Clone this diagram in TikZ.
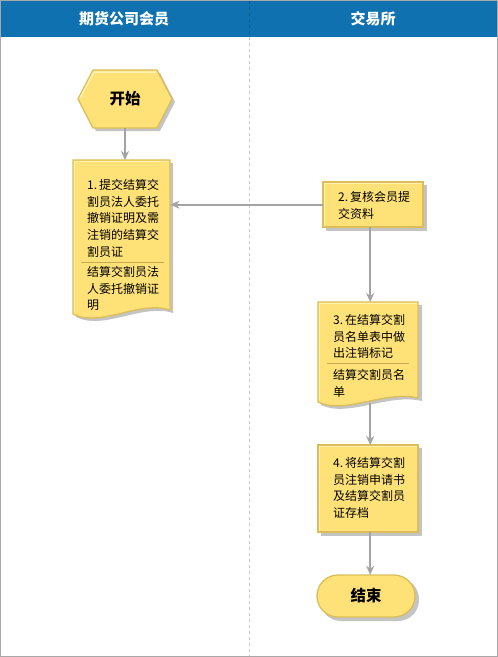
\documentclass[tikz,border=0pt]{standalone}
\usepackage{fontspec}
\newfontfamily\cjk{Noto Sans CJK SC}
\usetikzlibrary{arrows.meta,backgrounds}
\definecolor{hdr}{HTML}{1071B0}
\definecolor{hdrline}{HTML}{0B5A8E}
\definecolor{ylw}{HTML}{FFE277}
\definecolor{ylight}{HTML}{FFF2B0}
\definecolor{yedge}{HTML}{DCBD58}
\definecolor{ydiv}{HTML}{C9A94E}
\definecolor{arr}{HTML}{A3A3A3}
\definecolor{shd}{HTML}{C4C4C4}
\definecolor{frame}{HTML}{A8A8A8}
\definecolor{lane}{HTML}{C8C8C8}
\newcommand{\nsp}{\hspace{2pt}}
\begin{document}
\begin{tikzpicture}[x=1pt,y=-1pt,
  lbl/.style={font=\cjk\fontsize{12}{16.8}\selectfont, align=left, anchor=north west, inner sep=0pt, text=black},
  hdrtext/.style={font=\cjk\bfseries\fontsize{15}{18}\selectfont, text=white, inner sep=0pt},
  termtext/.style={font=\cjk\bfseries\fontsize{15.5}{18}\selectfont, text=black, inner sep=0pt},
  holder/.style={draw=none, fill=none, inner sep=0pt, anchor=north west},
  yfill/.style={fill=ylw, draw=yedge, line width=1.3pt},
  shadow/.style={fill=shd, draw=none},
  conn/.style={draw=arr, line width=2pt, -{Stealth[length=9pt,width=8pt]}},
]
\useasboundingbox (0,0) rectangle (498,657);
% frame and header
\fill[white] (0,0) rectangle (498,657);
\fill[hdr] (1,1) rectangle (497,37);
\draw[hdrline, dashed, line width=0.8pt] (249,1) -- (249,37);
\draw[lane, dashed, line width=0.8pt] (249,37) -- (249,656);
\draw[frame, line width=1.2pt] (0.6,0.6) rectangle (497.4,656.4);
\node[hdrtext] (h1) at (124,19) {期货公司会员};
\node[hdrtext] (h2) at (373,19) {交易所};

% ---------- shapes ----------
% start hexagon
\fill[shadow] (81,102) -- (96,73) -- (160,73) -- (175,102) -- (160,131) -- (96,131) -- cycle;
\draw[yfill] (78,99) -- (93,70) -- (157,70) -- (172,99) -- (157,128) -- (93,128) -- cycle;
\draw[ylight, line width=1.5pt] (80,98) -- (94,72) -- (156,72);
\node[termtext, minimum width=94pt, minimum height=58pt] (start) at (125,99) {开始};

% box 1 (document)
\fill[shadow] (76,163) -- (173,163) -- (173,313) .. controls (143,303) and (103,331) .. (76,317) -- cycle;
\draw[yfill] (73,160) -- (170,160) -- (170,310) .. controls (140,300) and (100,328) .. (73,314) -- cycle;
\draw[ylight, line width=1.5pt] (74.5,312) -- (74.5,161.5) -- (168.5,161.5);
\draw[ydiv, line width=0.9pt] (81,262) -- (164,262);
\node[holder, minimum width=97pt, minimum height=154pt] (b1) at (73,160) {};
\node[lbl] (t1) at (87,179) {1.\nsp 提交结算交\\割员法人委托\\撤销证明及需\\注销的结算交\\割员证};
\node[lbl] (t1b) at (87,266) {结算交割员法\\人委托撤销证\\明};

% box 2
\fill[shadow] (326,185) rectangle (427,231);
\draw[yfill] (323,182) rectangle (423,227);
\draw[ylight, line width=1.5pt] (324.5,225.5) -- (324.5,183.5) -- (421.5,183.5);
\node[holder, minimum width=100pt, minimum height=45pt] (b2) at (323,182) {};
\node[lbl] (t2) at (338,191) {2.\nsp 复核会员提\\交资料};

% box 3 (document)
\fill[shadow] (321,305) -- (422,305) -- (422,401) .. controls (388,393) and (348,418) .. (321,405) -- cycle;
\draw[yfill] (318,302) -- (418,302) -- (418,398) .. controls (385,390) and (345,415) .. (318,402) -- cycle;
\draw[ylight, line width=1.5pt] (319.5,400) -- (319.5,303.5) -- (416.5,303.5);
\draw[ydiv, line width=0.9pt] (327,363) -- (409,363);
\node[holder, minimum width=100pt, minimum height=101pt] (b3) at (318,302) {};
\node[lbl] (t3) at (333,314) {3.\nsp 在结算交割\\员名单表中做\\出注销标记};
\node[lbl] (t3b) at (333,369) {结算交割员名\\单};

% box 4
\fill[shadow] (321,448) rectangle (422,536);
\draw[yfill] (318,445) rectangle (418,532);
\draw[ylight, line width=1.5pt] (319.5,530.5) -- (319.5,446.5) -- (416.5,446.5);
\node[holder, minimum width=100pt, minimum height=87pt] (b4) at (318,445) {};
\node[lbl] (t4) at (333,457) {4.\nsp 将结算交割\\员注销申请书\\及结算交割员\\证存档};

% end terminal
\fill[shadow, rounded corners=21pt] (320,578) rectangle (419,621);
\draw[yfill, rounded corners=21pt] (317,575) rectangle (415,617);
\node[termtext, minimum width=98pt, minimum height=42pt] (end) at (366,596) {结束};

% ---------- connectors ----------
\draw[conn] (start.south) -- (start.south |- b1.north);
\draw[conn] (b2.west) -- (b2.west -| b1.east);
\draw[conn] ([xshift=-3pt]b2.south) -- ([xshift=-3pt]b2.south |- b3.north);
\draw[conn] ([xshift=2pt]b3.south) -- ([xshift=2pt]b4.north);
\draw[conn] ([xshift=2pt]b4.south) -- ([xshift=2pt]b4.south |- end.north);
\end{tikzpicture}
\end{document}
